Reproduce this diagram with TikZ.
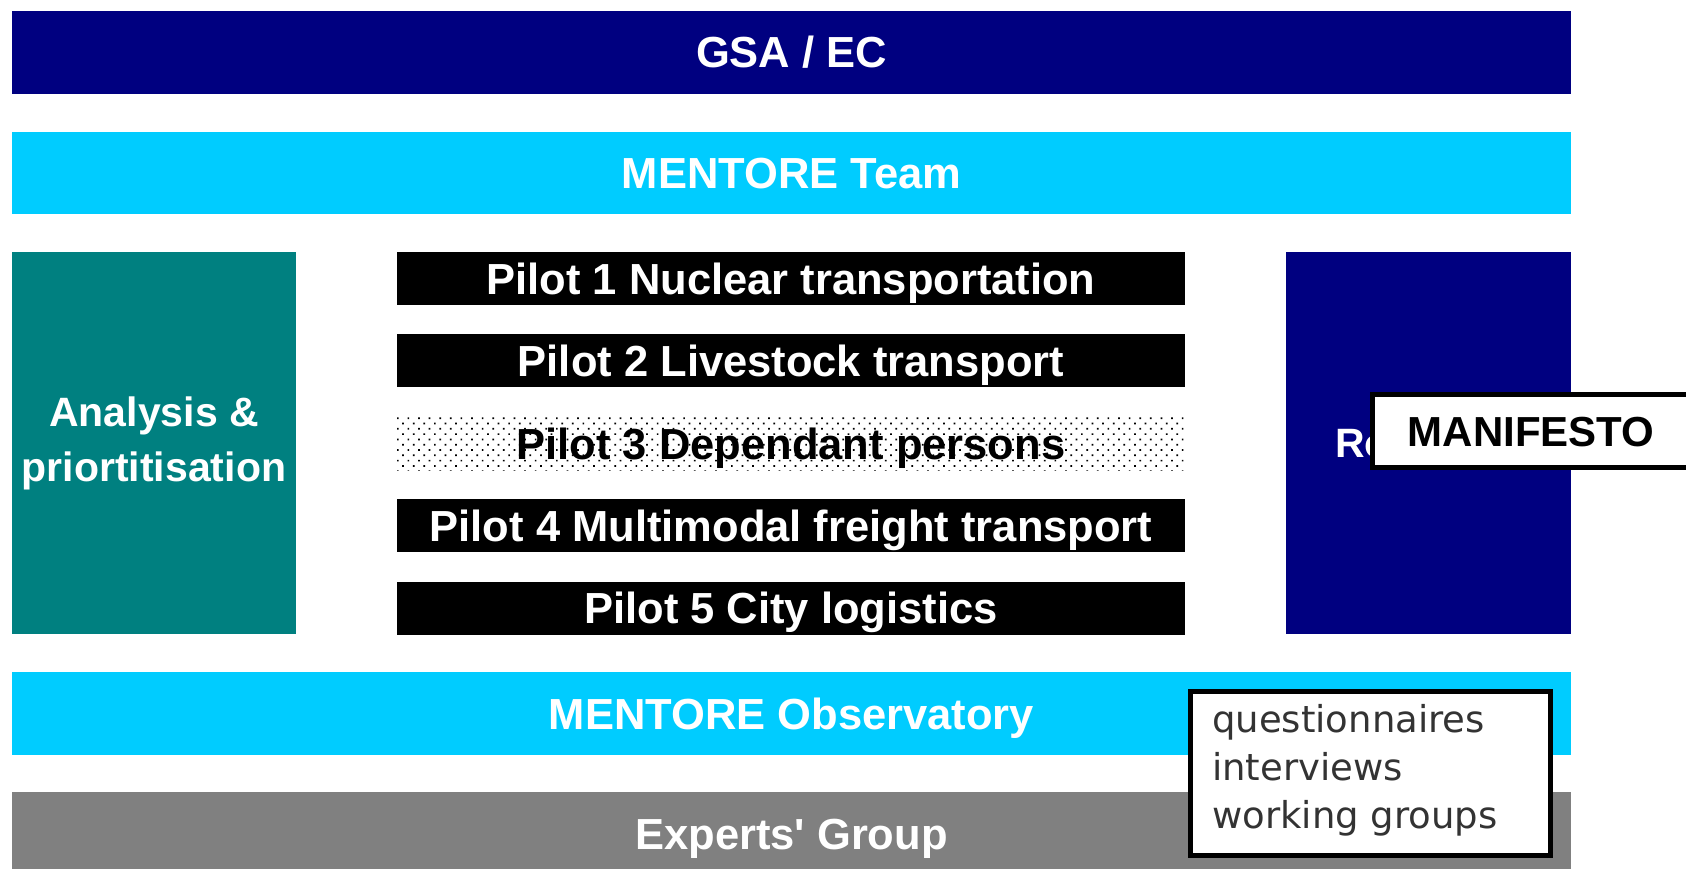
\documentclass[tikz,border=0pt]{standalone}
\usepackage{fontspec}
\setmainfont{Liberation Sans}
\newfontfamily\dejavu{DejaVu Sans}
\usetikzlibrary{patterns.meta}
\definecolor{navy}{HTML}{000080}
\definecolor{skyc}{HTML}{00CCFF}
\definecolor{tealc}{HTML}{008080}
\definecolor{greyc}{HTML}{808080}
\definecolor{textgrey}{HTML}{333333}
\tikzset{
  bar/.style={rectangle, inner sep=0pt, outer sep=0pt, draw=none, text=white,
    font=\bfseries\fontsize{43.5}{52}\selectfont, align=center},
  oneline/.style={text height=31pt, text depth=0pt},
  pilot/.style={bar, oneline, fill=black, minimum width=788pt, minimum height=53pt},
  callout/.style={rectangle, inner sep=0pt, outer sep=0pt, draw=black, line width=5pt, fill=white}
}
\begin{document}
\begin{tikzpicture}[x=1pt,y=-1pt]
\useasboundingbox[fill=white] (0,0) rectangle (1686,869);
% top bars
\node[bar, oneline, fill=navy, minimum width=1559pt, minimum height=83pt] (gsa) at (791.5,52.5) {GSA / EC};
\node[bar, oneline, fill=skyc, minimum width=1559pt, minimum height=82pt] (team) at (791.5,173) {MENTORE Team};
% side boxes
\node[bar, fill=tealc, minimum width=284pt, minimum height=382pt,
      font=\bfseries\fontsize{41}{55}\selectfont] (analysis) at (154,443) {Analysis \&\\priortitisation};
\node[bar, oneline, fill=navy, minimum width=285pt, minimum height=382pt,
      font=\bfseries\fontsize{41}{55}\selectfont, text height=29.5pt] (road) at (1428.5,443) {Roadmap};
% pilots
\node[pilot] (p1) at (791,278.5) {Pilot 1 Nuclear transportation};
\node[pilot] (p2) at (791,360.5) {Pilot 2 Livestock transport};
\node[pilot, fill=none, pattern={Dots[radius=1.2pt, distance=7.5pt, angle=45]}, pattern color=black, text=black] (p3) at (791,443.5) {Pilot 3 Dependant persons};
\node[pilot] (p4) at (791,525.5) {Pilot 4 Multimodal freight transport};
\node[pilot] (p5) at (791,608) {Pilot 5 City logistics};
% bottom bars
\node[bar, oneline, fill=skyc, minimum width=1559pt, minimum height=83pt] (obs) at (791.5,713.5) {MENTORE Observatory};
\node[bar, oneline, fill=greyc, minimum width=1559pt, minimum height=83pt] (experts) at (791.5,833.5) {Experts\textquotesingle\ Group};
% callouts
\node[callout, minimum width=317.5pt, minimum height=73pt, text=black,
      font=\bfseries\fontsize{42}{50}\selectfont, text height=30pt, text depth=0pt] (manifesto) at (1531.25,431) {MANIFESTO};
\node[callout, minimum width=360pt, minimum height=164pt] (methods) at (1370.5,773.5) {};
\node[anchor=west, inner sep=0pt, align=left, text=textgrey,
      font=\dejavu\fontsize{37}{48}\selectfont] (methodstext) at (1212,770) {questionnaires\\interviews\\working groups};
\end{tikzpicture}
\end{document}
